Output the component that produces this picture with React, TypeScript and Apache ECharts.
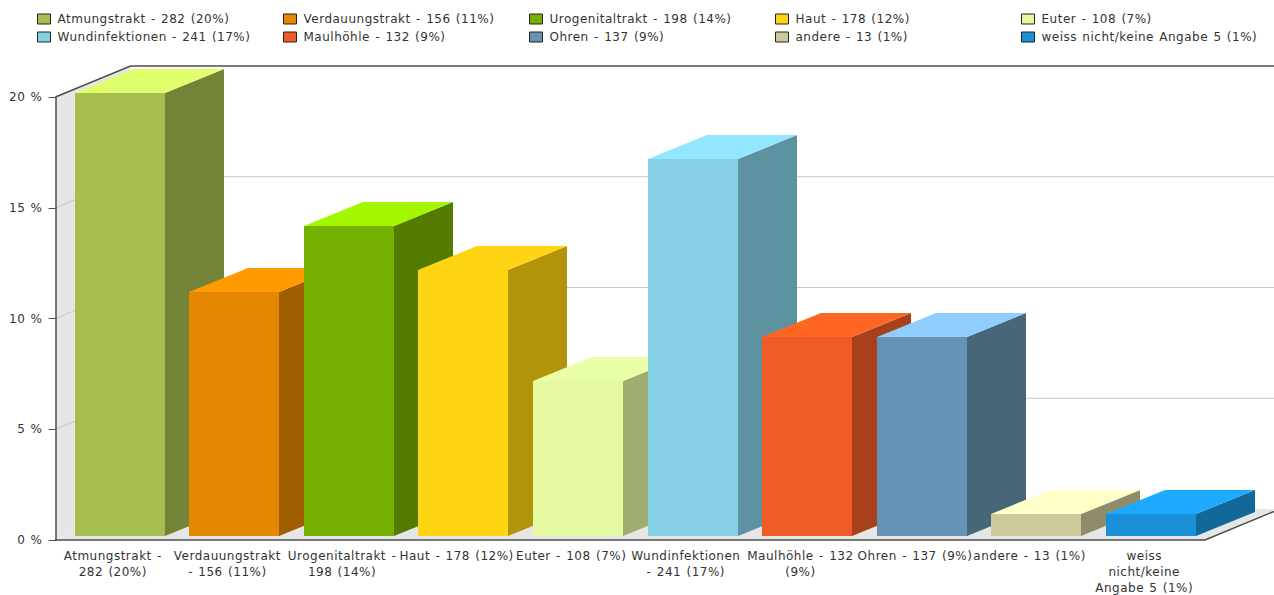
import React, { useEffect, useRef } from "react";
import * as echarts from "echarts";

// Legend entries, one per bar
const legendNames = [
  "Atmungstrakt - 282 (20%)",
  "Verdauungstrakt - 156 (11%)",
  "Urogenitaltrakt - 198 (14%)",
  "Haut - 178 (12%)",
  "Euter - 108 (7%)",
  "Wundinfektionen - 241 (17%)",
  "Maulhöhle - 132 (9%)",
  "Ohren - 137 (9%)",
  "andere - 13 (1%)",
  "weiss nicht/keine Angabe 5 (1%)",
];

// Category labels as they wrap under the axis
const axisLabels = [
  "Atmungstrakt -\n282 (20%)",
  "Verdauungstrakt\n- 156 (11%)",
  "Urogenitaltrakt -\n198 (14%)",
  "Haut - 178 (12%)",
  "Euter - 108 (7%)",
  "Wundinfektionen\n- 241 (17%)",
  "Maulhöhle - 132\n(9%)",
  "Ohren - 137 (9%)",
  "andere - 13 (1%)",
  "weiss\nnicht/keine\nAngabe 5 (1%)",
];

const percents = [20, 11, 14, 12, 7, 17, 9, 9, 1, 1];
const gridTicks = [0, 5, 10, 15, 20];

const frontColors = ["#a6bd50", "#e38800", "#76b000", "#ffd412", "#e4f9a0", "#86d0e6", "#f05c26", "#6592b5", "#ccc99a", "#1a90d8"];
const topColors = ["#dfff6c", "#ff9a00", "#a3f800", "#ffd412", "#e8ffa8", "#93e6ff", "#ff6624", "#8fceff", "#ffffc8", "#1faaff"];
const sideColors = ["#738337", "#9f5f00", "#527b00", "#b2940c", "#9fad70", "#5d92a1", "#a8401b", "#476679", "#8e8c6b", "#126896"];

// Oblique projection of the chart box and of each bar
const BOX_DX = 75;
const BOX_DY = -31;
const BAR_DX = 59;
const BAR_DY = -24;
const BAR_WIDTH = 90;
const BAR_SHIFT_X = 6.8;
const BAR_SHIFT_Y = -4;
const FLOOR_RIGHT = 1205;
const PAGE_RIGHT = 1280;

const LINE_DARK = "#4d4d4d";
const WALL = "#e6e6e6";
const GRID_LINE = "#c8c8c8";
const TEXT = "#333333";
const FONT = "DejaVu Sans";

function renderBox(params: any, api: any) {
  const cs = params.coordSys;
  const left = cs.x;
  const top = cs.y;
  const bottom = cs.y + cs.height;
  const children: any[] = [
    {
      type: "polygon",
      shape: { points: [[left, top], [left + BOX_DX, top + BOX_DY], [left + BOX_DX, bottom + BOX_DY], [left, bottom]] },
      style: { fill: WALL },
    },
    {
      type: "polygon",
      shape: { points: [[left, bottom], [FLOOR_RIGHT, bottom], [PAGE_RIGHT, bottom + BOX_DY], [left + BOX_DX, bottom + BOX_DY]] },
      style: { fill: WALL },
    },
  ];
  gridTicks.forEach((tick) => {
    if (tick === 0) return;
    const y = api.coord([0, tick])[1];
    const dark = tick === 20;
    children.push({
      type: "polyline",
      shape: { points: [[left, y], [left + BOX_DX, y + BOX_DY], [PAGE_RIGHT, y + BOX_DY]] },
      style: { fill: "none", stroke: dark ? LINE_DARK : GRID_LINE, lineWidth: dark ? 1.5 : 1.2 },
    });
  });
  children.push({
    type: "polyline",
    shape: { points: [[cs.x + cs.width, bottom], [FLOOR_RIGHT, bottom], [PAGE_RIGHT, bottom + BOX_DY]] },
    style: { fill: "none", stroke: LINE_DARK, lineWidth: 1.5 },
  });
  return { type: "group", children };
}

function renderBar(index: number) {
  return (_params: any, api: any) => {
    const [cx, yTop] = api.coord([api.value(0), api.value(1)]);
    const [, yBase] = api.coord([api.value(0), 0]);
    const x0 = Math.round(cx + BAR_SHIFT_X - BAR_WIDTH / 2);
    const x1 = x0 + BAR_WIDTH;
    const y0 = Math.round(yTop + BAR_SHIFT_Y);
    const y1 = Math.round(yBase + BAR_SHIFT_Y);
    return {
      type: "group",
      children: [
        {
          type: "polygon",
          shape: { points: [[x1, y0], [x1 + BAR_DX, y0 + BAR_DY], [x1 + BAR_DX, y1 + BAR_DY], [x1, y1]] },
          style: { fill: sideColors[index] },
        },
        {
          type: "polygon",
          shape: { points: [[x0, y0], [x0 + BAR_DX, y0 + BAR_DY], [x1 + BAR_DX, y0 + BAR_DY], [x1, y0]] },
          style: { fill: topColors[index] },
        },
        {
          type: "rect",
          shape: { x: x0, y: y0, width: BAR_WIDTH, height: y1 - y0 },
          style: { fill: frontColors[index] },
        },
      ],
    };
  };
}

// Five legend columns of two rows each
const legendColumnsLeft = [32, 278, 524, 770, 1016];
const legends = legendColumnsLeft.map((left, column) => ({
  orient: "vertical" as const,
  left,
  top: 8,
  itemWidth: 13,
  itemHeight: 10,
  itemGap: 6,
  selectedMode: false,
  icon: "rect",
  itemStyle: { borderColor: "#222222", borderWidth: 1 },
  textStyle: { color: TEXT, fontFamily: FONT, fontSize: 12, padding: [0, 0, 0, 2] },
  data: [legendNames[column], legendNames[column + 5]],
}));

export default function App() {
  const ref = useRef<HTMLDivElement>(null);

  useEffect(() => {
    document.body.style.margin = "0";
    const chart = echarts.init(ref.current!, undefined, { renderer: "svg" });
    chart.setOption({
      animation: false,
      backgroundColor: "#ffffff",
      legend: legends,
      grid: { left: 55.5, top: 97, width: 1146, height: 443, outerBoundsMode: "none" },
      xAxis: {
        type: "category",
        data: axisLabels,
        z: 3,
        axisLine: { lineStyle: { color: LINE_DARK, width: 1.5 } },
        axisTick: { alignWithLabel: true, length: 5, lineStyle: { color: LINE_DARK } },
        axisLabel: {
          interval: 0,
          hideOverlap: false,
          margin: 8,
          color: TEXT,
          fontFamily: FONT,
          fontSize: 12,
          lineHeight: 16,
        },
      },
      yAxis: {
        type: "value",
        min: 0,
        max: 20,
        interval: 5,
        z: 3,
        splitLine: { show: false },
        axisLine: { show: true, lineStyle: { color: LINE_DARK, width: 1.5 } },
        axisTick: { show: true, length: 7, lineStyle: { color: LINE_DARK } },
        axisLabel: {
          formatter: "{value} %",
          margin: 13,
          color: TEXT,
          fontFamily: FONT,
          fontSize: 12,
        },
      },
      series: [
        {
          type: "custom",
          name: "box",
          z: -1,
          silent: true,
          renderItem: renderBox,
          data: [[0, 0]],
        },
        ...legendNames.map((name, i) => ({
          type: "custom",
          name,
          itemStyle: { color: frontColors[i] },
          encode: { x: 0, y: 1 },
          renderItem: renderBar(i),
          data: [[i, percents[i]]],
        })),
      ],
    });
    return () => chart.dispose();
  }, []);

  return (
    <div
      ref={ref}
      style={{ position: "absolute", left: 0, top: 0, width: 1274, height: 595, letterSpacing: "0.5px", wordSpacing: "1px" }}
    />
  );
}
